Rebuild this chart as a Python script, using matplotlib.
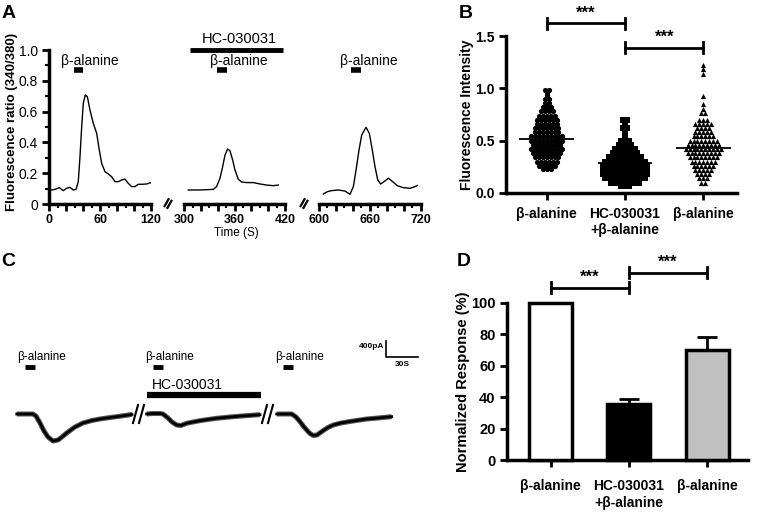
import numpy as np
import matplotlib
matplotlib.use("Agg")
import matplotlib.pyplot as plt
from matplotlib.lines import Line2D

plt.rcParams['font.family'] = ['Liberation Sans', 'DejaVu Sans']

# ---- panel A: Fura-2 ratio traces (time in s, ratio 340/380)
a_t1 = [2.8, 6.7, 11.8, 16.5, 20.5, 24.4, 28.3, 31.5, 34.2, 36.2, 38.2, 40.1, 42.5, 44.9, 48.0,
        51.9, 55.9, 59.0, 61.8, 65.7, 69.6, 73.6, 77.5, 81.4, 85.4, 89.3, 93.2, 97.2, 101.0,
        105.0, 109.0, 114.9, 120.0]
a_v1 = [0.091, 0.095, 0.106, 0.087, 0.102, 0.108, 0.091, 0.095, 0.145, 0.307, 0.50, 0.654,
        0.708, 0.697, 0.61, 0.524, 0.459, 0.35, 0.264, 0.21, 0.195, 0.177, 0.145, 0.145, 0.156,
        0.162, 0.134, 0.113, 0.113, 0.128, 0.128, 0.13, 0.139]
a_t2 = [304.8, 318.7, 334.6, 338.5, 342.5, 345.7, 348.5, 351.7, 354.4, 357.6, 360.4, 364.4,
        368.3, 374.3, 382.3, 390.2, 398.1, 406.1, 412.0]
a_v2 = [0.091, 0.091, 0.095, 0.113, 0.167, 0.242, 0.318, 0.357, 0.346, 0.286, 0.221, 0.16,
        0.143, 0.139, 0.139, 0.13, 0.123, 0.119, 0.123]
a_t3 = [605.1, 609.8, 615.0, 622.8, 630.7, 636.6, 640.5, 643.7, 647.2, 650.4, 655.5, 659.4,
        662.9, 666.1, 669.3, 672.8, 676.7, 681.8, 687.0, 692.4, 699.5, 707.4, 712.0, 716.0]
a_v3 = [0.065, 0.08, 0.087, 0.091, 0.084, 0.063, 0.112, 0.22, 0.35, 0.448, 0.498, 0.459,
        0.35, 0.242, 0.156, 0.13, 0.145, 0.167, 0.145, 0.119, 0.106, 0.102, 0.11, 0.12]
a_ranges = [(0, 120), (300, 420), (600, 720)]
a_yticks = [0, 0.2, 0.4, 0.6, 0.8, 1.0]
a_yticklabels = ['0', '0.2', '0.4', '0.6', '0.8', '1.0']
a_stim = [(29, 40), (339, 351), (638, 649)]
a_stim_text = [48, 364.6, 659]
a_hc = (307, 417.6)

# ---- panel B: fluorescence intensity per cell (value levels and number of cells)
b_labels = ['β-alanine', 'HC-030031\n+β-alanine', 'β-alanine']
b_levels1 = [0.98, 0.96, 0.94, 0.90, 0.86, 0.82, 0.78, 0.74, 0.70, 0.66, 0.62, 0.58, 0.54,
             0.50, 0.46, 0.42, 0.38, 0.34, 0.30, 0.26, 0.23]
b_counts1 = [2, 1, 1, 2, 2, 3, 4, 5, 6, 6, 7, 7, 9, 9, 8, 9, 8, 7, 6, 5, 3]
b_levels2 = [0.70, 0.66, 0.62, 0.58, 0.54, 0.50, 0.46, 0.42, 0.38, 0.34, 0.30, 0.26, 0.22,
             0.18, 0.14, 0.10, 0.07]
b_counts2 = [2, 1, 2, 1, 1, 3, 4, 6, 7, 9, 11, 12, 12, 12, 11, 8, 3]
b_levels3 = [1.22, 1.18, 1.14, 0.93, 0.85, 0.80, 0.76, 0.70, 0.66, 0.62, 0.58, 0.54, 0.50,
             0.46, 0.42, 0.38, 0.34, 0.30, 0.26, 0.22, 0.18, 0.14, 0.10]
b_counts3 = [1, 1, 1, 1, 1, 1, 2, 3, 5, 4, 5, 6, 8, 9, 10, 9, 8, 7, 6, 5, 4, 3, 2]
b_means = [0.52, 0.29, 0.43]

# ---- panel C: whole-cell current (time in s, current in pA)
c_t1 = [15.7, 30.9, 33.75, 37.5, 41.25, 45.0, 49.7, 54.4, 58.1, 62.5, 70.3, 77.8, 86.25,
        93.75, 101.25, 109.4, 117.2, 123.75]
c_i1 = [0, 0, -50, -225, -425, -575, -675, -650, -575, -475, -325, -225, -162, -125, -95,
        -67, -37, -12]
c_t2 = [137.5, 142.5, 150.0, 152.8, 157.5, 161.25, 165.6, 169.7, 175.0, 180.9, 187.5, 195.0,
        203.1, 210.9, 218.75, 230.6, 243.75]
c_i2 = [0, 12, 12, 0, -100, -200, -275, -287, -232, -200, -167, -137, -107, -87, -67, -42, -17]
c_t3 = [259.4, 273.5, 277.5, 281.25, 284.3, 287.5, 290.6, 293.7, 297.2, 303.1, 307.5, 312.5,
        319.7, 328.1, 335.6, 343.75, 354.4, 367.2]
c_i3 = [0, 0, -75, -192, -300, -400, -487, -537, -525, -412, -337, -275, -225, -187, -157,
        -125, -100, -67]
c_stim = [(23.4, 32.8), (143.4, 152.8), (265.3, 274.7)]
c_hc = (137.5, 244.7)

# ---- panel D: normalized response (%)
d_values = [100, 35.8, 70.2]
d_errors = [0, 3.2, 7.7]
d_colors = ['white', 'black', '#c0c0c0']

W, H = 760, 512
fig = plt.figure(figsize=(W / 100, H / 100), dpi=100)


def px_box(l, t, r, b):
    return [l / W, 1 - b / H, (r - l) / W, (b - t) / H]


def fx(x):
    return x / W


def fy(y):
    return 1 - y / H


def bold_ticks(ax, size):
    for lab in ax.get_xticklabels() + ax.get_yticklabels():
        lab.set_fontweight('bold')
        lab.set_fontsize(size)


def bracket(ax, x0, x1, y, h, ty):
    ax.plot([x0, x1], [y, y], color='k', lw=2, clip_on=False)
    ax.plot([x0, x0], [y - h, y + h], color='k', lw=2, clip_on=False)
    ax.plot([x1, x1], [y - h, y + h], color='k', lw=2, clip_on=False)
    ax.text((x0 + x1) / 2, ty, '***', ha='center', va='center', fontsize=12,
            fontweight='bold')


def swarm_offsets(vals, step):
    offs = np.zeros(len(vals))
    for v in np.unique(vals):
        idx = np.where(vals == v)[0]
        offs[idx] = (np.arange(len(idx)) - (len(idx) - 1) / 2) * step
    return offs


# ================= A =================
seg_px = [(49.3, 151), (184.3, 285), (319, 420.7)]
traces = [(a_t1, a_v1), (a_t2, a_v2), (a_t3, a_v3)]
for k, (ts, vs) in enumerate(traces):
    l, r = seg_px[k]
    ax = fig.add_axes(px_box(l, 50, r, 204))
    ax.patch.set_alpha(0)
    ax.plot(ts, vs, color='k', lw=1.0)
    lo, hi = a_ranges[k]
    ax.set_xlim(lo, hi)
    ax.set_ylim(0, 1.0)
    ax.spines['top'].set_visible(False)
    ax.spines['right'].set_visible(False)
    ax.spines['bottom'].set_linewidth(2.5)
    ticks = np.arange(lo, hi + 1, 20)
    ax.set_xticks(ticks)
    ax.set_xticklabels([str(v) if v % 60 == 0 else '' for v in ticks])
    ax.set_xticks(np.arange(lo, hi + 1, 10), minor=True)
    ax.tick_params(axis='x', which='major', length=5, width=2, pad=2)
    ax.tick_params(axis='x', which='minor', length=3, width=1.5)
    for lab in ax.get_xticklabels():
        lab.set_fontweight('bold')
        lab.set_fontsize(9)
    if k == 0:
        ax.spines['left'].set_linewidth(2.5)
        ax.set_yticks(a_yticks)
        ax.set_yticklabels(a_yticklabels, fontsize=10)
        ax.set_yticks(np.arange(0, 1.01, 0.1), minor=True)
        ax.tick_params(axis='y', which='major', length=5, width=2, pad=3)
        ax.tick_params(axis='y', which='minor', length=3, width=1.5)
    else:
        ax.spines['left'].set_visible(False)
        ax.set_yticks([])
        ax.set_yticks([], minor=True)
    s0, s1 = a_stim[k]
    ax.plot([s0, s1], [0.87, 0.87], color='k', lw=4, solid_capstyle='butt', clip_on=False)
    ax.text(a_stim_text[k], 0.93, 'β-alanine', ha='center', va='center', fontsize=10)
    if k == 1:
        ax.plot(a_hc, [1.0, 1.0], color='k', lw=3.5, solid_capstyle='butt', clip_on=False)
        ax.text(365.8, 1.07, 'HC-030031', ha='center', va='center', fontsize=10.5)

# axis break marks
for bx in (168, 304):
    fig.add_artist(Line2D([fx(bx - 2.5), fx(bx + 2.5)], [fy(208), fy(199)],
                          color='k', lw=4, solid_capstyle='butt'))
    fig.add_artist(Line2D([fx(bx - 2.5), fx(bx + 2.5)], [fy(208), fy(199)],
                          color='white', lw=0.8))

fig.text(fx(12), fy(122), 'Fluorescence ratio (340/380)', rotation=90, ha='center',
         va='center', fontsize=9.5, fontweight='bold')
fig.text(fx(236), fy(233), 'Time (S)', ha='center', va='center', fontsize=8.5)

# ================= B =================
axB = fig.add_axes(px_box(506, 36, 737, 193))
levels = [(b_levels1, b_counts1), (b_levels2, b_counts2), (b_levels3, b_counts3)]
for i, (lv, ct) in enumerate(levels):
    vals = np.repeat(lv, ct)
    offs = swarm_offsets(vals, 0.05)
    axB.scatter(i + offs, vals, s=14, marker=['o', 's', '^'][i], color='k', lw=0,
                clip_on=False, zorder=3)
    axB.hlines(b_means[i], i - 0.35, i + 0.35, color='k', lw=1.3, zorder=4)
axB.set_xlim(-0.52, 2.43)
axB.set_ylim(0, 1.5)
axB.set_yticks([0, 0.5, 1.0, 1.5])
axB.set_yticklabels(['0.0', '0.5', '1.0', '1.5'])
axB.set_xticks([0, 1, 2])
axB.set_xticklabels(b_labels)
for s in ['top', 'right']:
    axB.spines[s].set_visible(False)
for s in ['left', 'bottom']:
    axB.spines[s].set_linewidth(2.5)
axB.tick_params(length=5, width=2, pad=3)
axB.tick_params(axis='x', pad=5)
bold_ticks(axB, 10)
axB.set_ylabel('Fluorescence Intensity', fontsize=10, fontweight='bold', labelpad=1)
bracket(axB, 0, 1, 1.62, 0.05, 1.72)
bracket(axB, 1, 2, 1.39, 0.05, 1.49)

# ================= C =================
axC = fig.add_axes(px_box(0, 280, 420, 460))
axC.axis('off')
axC.set_xlim(0, 420 * 30 / 32)
axC.set_ylim(-1150, 3350)
for ts, cs in [(c_t1, c_i1), (c_t2, c_i2), (c_t3, c_i3)]:
    axC.plot(ts, cs, color='#555555', lw=3.6, solid_capstyle='butt')
    axC.plot(ts, cs, color='k', lw=2.0)
for k, (s0, s1) in enumerate(c_stim):
    axC.plot([s0, s1], [1175, 1175], color='k', lw=3.5, solid_capstyle='butt')
    axC.text(s0 - 7, 1425, 'β-alanine', ha='left', va='center', fontsize=8.5)
axC.plot(c_hc, [475, 475], color='k', lw=4.5, solid_capstyle='butt')
axC.text(c_hc[0] + 5, 725, 'HC-030031', ha='left', va='center', fontsize=10)
# scale bar: 400 pA / 30 s
sx, sy = 362, 1425
axC.plot([sx, sx, sx + 30], [sy + 400, sy, sy], color='k', lw=1.2)
axC.text(sx - 2, sy + 250, '400pA', ha='right', va='center', fontsize=6, fontweight='bold')
axC.text(sx + 15, sy - 200, '30S', ha='center', va='center', fontsize=6, fontweight='bold')

for bx in (139, 268):
    for dx in (-3, 3):
        fig.add_artist(Line2D([fx(bx + dx - 3), fx(bx + dx + 2)], [fy(423), fy(405)],
                              color='k', lw=1.5))

# ================= D =================
axD = fig.add_axes(px_box(506.7, 302.7, 748, 460))
xs = np.arange(len(d_values))
axD.bar(xs, d_values, width=0.55, color=d_colors, edgecolor='k', lw=2.5, clip_on=False,
        zorder=3)
axD.errorbar(xs[1:], d_values[1:], yerr=[[0, 0], d_errors[1:]], fmt='none', ecolor='k',
             elinewidth=2, capsize=7, capthick=2, zorder=2)
axD.set_xlim(-0.56, 2.52)
axD.set_ylim(0, 100)
axD.set_yticks([0, 20, 40, 60, 80, 100])
axD.set_xticks(xs)
axD.set_xticklabels(b_labels)
for s in ['top', 'right']:
    axD.spines[s].set_visible(False)
for s in ['left', 'bottom']:
    axD.spines[s].set_linewidth(2.5)
axD.tick_params(length=5, width=2, pad=3)
axD.tick_params(axis='x', pad=9)
bold_ticks(axD, 10.5)
for lab in axD.get_xticklabels():
    lab.set_fontsize(10)
axD.set_ylabel('Normalized Response (%)', fontsize=10.5, fontweight='bold', labelpad=1)
bracket(axD, 0, 1, 109.5, 3.5, 116)
bracket(axD, 1, 2, 119, 3.5, 125.5)

# panel letters
for letter, (x, y) in {'A': (9, 13), 'B': (466, 13), 'C': (8, 262), 'D': (464, 262)}.items():
    fig.text(fx(x), fy(y), letter, ha='center', va='center', fontsize=14, fontweight='bold')

fig.savefig('out.png', dpi=100)
